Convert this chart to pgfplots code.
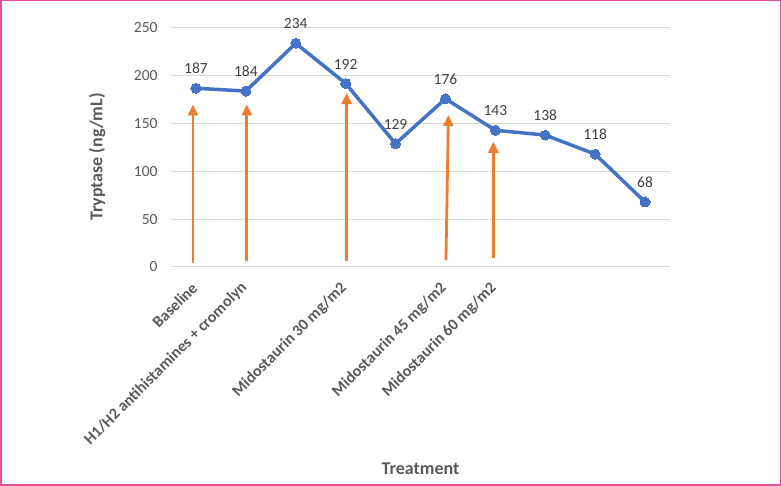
\documentclass[border=0pt]{standalone}
\usepackage{fontspec}
\setmainfont{Carlito}
\usepackage{pgfplots}
\pgfplotsset{compat=1.18}
\usetikzlibrary{arrows.meta}
\definecolor{lineblue}{HTML}{4472C4}
\definecolor{arroworange}{HTML}{ED7D31}
\definecolor{gridgray}{HTML}{D9D9D9}
\definecolor{labgray}{HTML}{595959}
\definecolor{datgray}{HTML}{404040}
\definecolor{framepink}{HTML}{E6509A}

\begin{document}
\begin{tikzpicture}[x=1pt,y=1pt]
\path[use as bounding box] (0,0) rectangle (781,486);
\draw[framepink, line width=1.5pt] (0.75,0.75) rectangle (780.25,485.25);
\begin{axis}[
    at={(171pt,219pt)}, anchor=south west,
    scale only axis,
    width=499pt, height=239pt,
    xmin=-0.5, xmax=9.5,
    ymin=0, ymax=250,
    ytick={0,50,100,150,200,250},
    xtick={0,1,3,5,6},
    xticklabels={Baseline, H1/H2 antihistamines + cromolyn, Midostaurin 30 mg/m2, Midostaurin 45 mg/m2, Midostaurin 60 mg/m2},
    axis line style={draw=none},
    tick style={draw=none},
    ymajorgrids,
    major grid style={gridgray, line width=1pt},
    clip=false,
    font=\fontsize{15.5}{18}\selectfont,
    ticklabel style={labgray},
    yticklabel style={xshift=-10pt},
    xticklabel style={xshift=1pt, yshift=-16pt, rotate=45, anchor=east, font=\fontsize{16}{18}\selectfont\bfseries},
    /pgf/number format/assume math mode=true,
    xlabel={Treatment},
    xlabel style={at={(axis description cs:0.5,-0.845)}, anchor=center, font=\fontsize{18}{20}\selectfont\bfseries, labgray},
    ylabel={Tryptase (ng/mL)},
    ylabel style={at={(axis description cs:-0.148,0.46)}, anchor=center, font=\fontsize{18}{20}\selectfont\bfseries, labgray},
]
\addplot[lineblue, line width=3.5pt, mark=*, mark size=5pt,
    mark options={fill=lineblue, draw=lineblue, line width=0pt},
    nodes near coords, point meta=explicit symbolic,
    every node near coord/.append style={datgray, anchor=south, yshift=11pt, font=\fontsize{15.5}{18}\selectfont}]
  table[meta=v] {
    x y v
    0 187 187
    1 184 184
    2 234 234
    3 192 192
    4 129 129
    5 176 176
    6 143 143
    7 138 138
    8 118 118
    9 68 68
  };
\addplot[arroworange, line width=2.8pt, -{Triangle[length=11pt, width=10pt]},
    quiver={u=\thisrow{u}, v=\thisrow{v}}]
  table {
    x y u v
    -0.06 4 0 166
    1.02 6 0 164
    3.02 6 0 176
    5.01 7 0.05 152
    5.96 9 0 122
  };
\end{axis}
\end{tikzpicture}
\end{document}
